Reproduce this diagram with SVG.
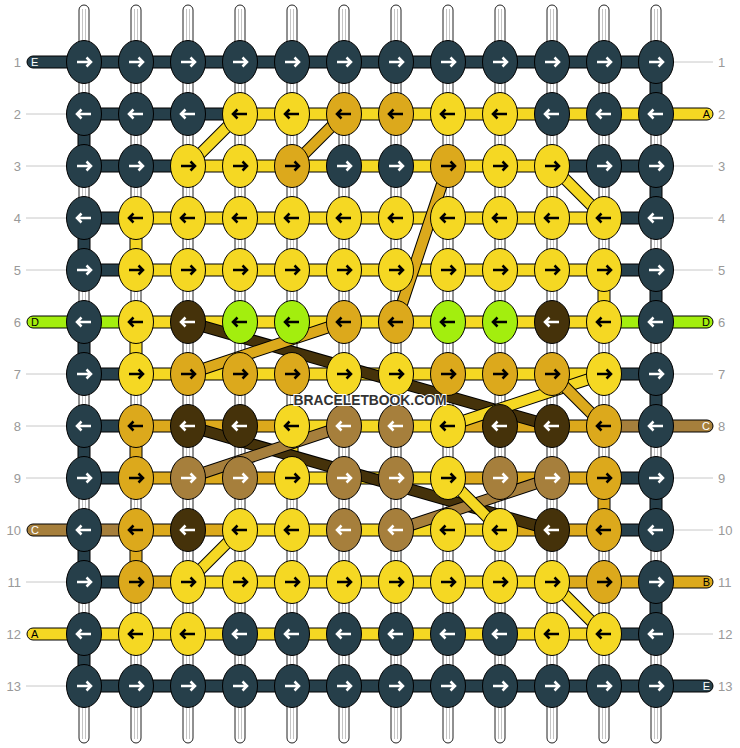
<svg xmlns="http://www.w3.org/2000/svg" xmlns:xlink="http://www.w3.org/1999/xlink" width="740" height="748" viewBox="0 0 740 748">
<style>
.k{fill:#263f4a;color:#fff}
.y{fill:#f5d823;color:#000}
.g{fill:#dca91c;color:#000}
.b{fill:#45320a;color:#fff}
.l{fill:#a3ee0e;color:#000}
.t{fill:#a67f3c;color:#fff}
.bar{stroke:#000;stroke-width:1}
.str{fill:#fff;stroke:#222;stroke-width:1}
.sl{stroke:#c4c4c4;stroke-width:1}
.o{stroke:#000;stroke-width:12}
.d{stroke-width:10}
.dy{stroke:#f5d823}.dg{stroke:#dca91c}.db{stroke:#45320a}.dt{stroke:#a67f3c}
.gl{stroke:#c8c8c8;stroke-width:1}
.num{font-family:"Liberation Sans",Arial,sans-serif;font-size:13px;fill:#999}
.lab{font-family:"Liberation Sans",Arial,sans-serif;font-size:11px}
.wm{font-family:"Liberation Sans",Arial,sans-serif;font-size:15px;font-weight:bold;fill:#333;stroke:#fff;stroke-width:2;paint-order:stroke}
</style>
<defs>
<ellipse id="kn" rx="17.5" ry="21.5" stroke="#000" stroke-width="1"/>
<path id="ar" d="M-7,0H6.5M2.5,-4.5L7,0L2.5,4.5" fill="none" stroke="currentColor" stroke-width="2.5"/>
<path id="al" d="M7,0H-6.5M-2.5,-4.5L-7,0L-2.5,4.5" fill="none" stroke="currentColor" stroke-width="2.5"/>
<g id="st"><rect class="str" x="-5" y="5" width="10" height="738" rx="5"/><line class="sl" x1="-1.5" y1="9" x2="-1.5" y2="739"/><line class="sl" x1="1.5" y1="9" x2="1.5" y2="739"/></g>
</defs>
<rect width="740" height="748" fill="#fff"/>
<g id="strings">
<use href="#st" x="84"/><use href="#st" x="136"/><use href="#st" x="188"/><use href="#st" x="240"/><use href="#st" x="292"/><use href="#st" x="344"/><use href="#st" x="396"/><use href="#st" x="448"/><use href="#st" x="500"/><use href="#st" x="552"/><use href="#st" x="604"/><use href="#st" x="656"/>
</g>
<g id="rowlabels">
<line class="gl" x1="26" y1="114" x2="67" y2="114"/><line class="gl" x1="26" y1="166" x2="67" y2="166"/><line class="gl" x1="26" y1="218" x2="67" y2="218"/><line class="gl" x1="26" y1="270" x2="67" y2="270"/><line class="gl" x1="26" y1="374" x2="67" y2="374"/><line class="gl" x1="26" y1="426" x2="67" y2="426"/><line class="gl" x1="26" y1="478" x2="67" y2="478"/><line class="gl" x1="26" y1="582" x2="67" y2="582"/><line class="gl" x1="26" y1="686" x2="67" y2="686"/>
<line class="gl" x1="673" y1="62" x2="713" y2="62"/><line class="gl" x1="673" y1="166" x2="713" y2="166"/><line class="gl" x1="673" y1="218" x2="713" y2="218"/><line class="gl" x1="673" y1="270" x2="713" y2="270"/><line class="gl" x1="673" y1="374" x2="713" y2="374"/><line class="gl" x1="673" y1="478" x2="713" y2="478"/><line class="gl" x1="673" y1="530" x2="713" y2="530"/><line class="gl" x1="673" y1="634" x2="713" y2="634"/>
<g class="num" text-anchor="end">
<text x="21" y="66.5">1</text><text x="21" y="118.5">2</text><text x="21" y="170.5">3</text><text x="21" y="222.5">4</text><text x="21" y="274.5">5</text><text x="21" y="326.5">6</text><text x="21" y="378.5">7</text><text x="21" y="430.5">8</text><text x="21" y="482.5">9</text><text x="21" y="534.5">10</text><text x="21" y="586.5">11</text><text x="21" y="638.5">12</text><text x="21" y="690.5">13</text>
</g>
<g class="num">
<text x="718" y="66.5">1</text><text x="718" y="118.5">2</text><text x="718" y="170.5">3</text><text x="718" y="222.5">4</text><text x="718" y="274.5">5</text><text x="718" y="326.5">6</text><text x="718" y="378.5">7</text><text x="718" y="430.5">8</text><text x="718" y="482.5">9</text><text x="718" y="534.5">10</text><text x="718" y="586.5">11</text><text x="718" y="638.5">12</text><text x="718" y="690.5">13</text>
</g>
</g>
<g id="connectors">
<g id="endbars">
<rect class="bar k" x="27" y="56" width="60" height="12" rx="6"/>
<rect class="bar l" x="27" y="316" width="60" height="12" rx="6"/>
<rect class="bar t" x="27" y="524" width="60" height="12" rx="6"/>
<rect class="bar y" x="27" y="628" width="60" height="12" rx="6"/>
<rect class="bar y" x="653" y="108" width="60" height="12" rx="6"/>
<rect class="bar l" x="653" y="316" width="60" height="12" rx="6"/>
<rect class="bar t" x="653" y="420" width="60" height="12" rx="6"/>
<rect class="bar g" x="653" y="576" width="60" height="12" rx="6"/>
<rect class="bar k" x="653" y="680" width="60" height="12" rx="6"/>
</g>
<g id="rowbars">
<rect class="bar k" x="84" y="56" width="572" height="12"/>
<rect class="bar k" x="84" y="108" width="156" height="12"/><rect class="bar y" x="240" y="108" width="416" height="12"/>
<rect class="bar k" x="84" y="160" width="104" height="12"/><rect class="bar y" x="188" y="160" width="364" height="12"/><rect class="bar k" x="552" y="160" width="104" height="12"/>
<rect class="bar k" x="84" y="212" width="52" height="12"/><rect class="bar y" x="136" y="212" width="468" height="12"/><rect class="bar k" x="604" y="212" width="52" height="12"/>
<rect class="bar k" x="84" y="264" width="52" height="12"/><rect class="bar y" x="136" y="264" width="468" height="12"/><rect class="bar k" x="604" y="264" width="52" height="12"/>
<rect class="bar l" x="84" y="316" width="52" height="12"/><rect class="bar y" x="136" y="316" width="468" height="12"/><rect class="bar l" x="604" y="316" width="52" height="12"/>
<rect class="bar k" x="84" y="368" width="52" height="12"/><rect class="bar y" x="136" y="368" width="468" height="12"/><rect class="bar k" x="604" y="368" width="52" height="12"/>
<rect class="bar k" x="84" y="420" width="52" height="12"/><rect class="bar g" x="136" y="420" width="156" height="12"/><rect class="bar y" x="292" y="420" width="156" height="12"/><rect class="bar g" x="448" y="420" width="156" height="12"/><rect class="bar t" x="604" y="420" width="52" height="12"/>
<rect class="bar k" x="84" y="472" width="52" height="12"/><rect class="bar g" x="136" y="472" width="156" height="12"/><rect class="bar y" x="292" y="472" width="156" height="12"/><rect class="bar g" x="448" y="472" width="156" height="12"/><rect class="bar k" x="604" y="472" width="52" height="12"/>
<rect class="bar t" x="84" y="524" width="52" height="12"/><rect class="bar g" x="136" y="524" width="104" height="12"/><rect class="bar y" x="240" y="524" width="260" height="12"/><rect class="bar g" x="500" y="524" width="104" height="12"/><rect class="bar k" x="604" y="524" width="52" height="12"/>
<rect class="bar k" x="84" y="576" width="52" height="12"/><rect class="bar g" x="136" y="576" width="52" height="12"/><rect class="bar y" x="188" y="576" width="364" height="12"/><rect class="bar g" x="552" y="576" width="104" height="12"/>
<rect class="bar y" x="84" y="628" width="520" height="12"/><rect class="bar k" x="604" y="628" width="52" height="12"/>
<rect class="bar k" x="84" y="680" width="572" height="12"/>
</g>
<g id="turns">
<rect class="bar k" x="650" y="62" width="12" height="52"/>
<rect class="bar k" x="78" y="114" width="12" height="52"/>
<rect class="bar k" x="650" y="166" width="12" height="52"/>
<rect class="bar k" x="78" y="218" width="12" height="52"/>
<rect class="bar y" x="130" y="218" width="12" height="52"/>
<rect class="bar k" x="650" y="270" width="12" height="52"/>
<rect class="bar y" x="598" y="270" width="12" height="52"/>
<rect class="bar k" x="78" y="322" width="12" height="52"/>
<rect class="bar y" x="130" y="322" width="12" height="52"/>
<rect class="bar k" x="650" y="374" width="12" height="52"/>
<rect class="bar k" x="78" y="426" width="12" height="52"/>
<rect class="bar g" x="130" y="426" width="12" height="52"/>
<rect class="bar y" x="286" y="426" width="12" height="52"/>
<rect class="bar k" x="650" y="478" width="12" height="52"/>
<rect class="bar g" x="598" y="478" width="12" height="52"/>
<rect class="bar k" x="78" y="530" width="12" height="52"/>
<rect class="bar g" x="130" y="530" width="12" height="52"/>
<rect class="bar k" x="650" y="582" width="12" height="52"/>
<rect class="bar k" x="78" y="634" width="12" height="52"/>
</g>
<g id="diagonals">
<line class="o" x1="188" y1="322" x2="552" y2="426"/><line class="d db" x1="188" y1="322" x2="552" y2="426"/>
<line class="o" x1="188" y1="426" x2="552" y2="530"/><line class="d db" x1="188" y1="426" x2="552" y2="530"/>
<line class="o" x1="344" y1="426" x2="188" y2="478"/><line class="d dt" x1="344" y1="426" x2="188" y2="478"/>
<line class="o" x1="552" y1="478" x2="396" y2="530"/><line class="d dt" x1="552" y1="478" x2="396" y2="530"/>
<line class="o" x1="344" y1="114" x2="292" y2="166"/><line class="d dg" x1="344" y1="114" x2="292" y2="166"/>
<line class="o" x1="448" y1="166" x2="396" y2="322"/><line class="d dg" x1="448" y1="166" x2="396" y2="322"/>
<line class="o" x1="344" y1="322" x2="188" y2="374"/><line class="d dg" x1="344" y1="322" x2="188" y2="374"/>
<line class="o" x1="604" y1="374" x2="448" y2="426"/><line class="d dy" x1="604" y1="374" x2="448" y2="426"/>
<line class="o" x1="552" y1="374" x2="604" y2="426"/><line class="d dg" x1="552" y1="374" x2="604" y2="426"/>
<line class="o" x1="240" y1="114" x2="188" y2="166"/><line class="d dy" x1="240" y1="114" x2="188" y2="166"/>
<line class="o" x1="552" y1="166" x2="604" y2="218"/><line class="d dy" x1="552" y1="166" x2="604" y2="218"/>
<line class="o" x1="448" y1="478" x2="500" y2="530"/><line class="d dy" x1="448" y1="478" x2="500" y2="530"/>
<line class="o" x1="240" y1="530" x2="188" y2="582"/><line class="d dy" x1="240" y1="530" x2="188" y2="582"/>
<line class="o" x1="552" y1="582" x2="604" y2="634"/><line class="d dy" x1="552" y1="582" x2="604" y2="634"/>
</g>
</g>
<g id="knots">
<g id="n1-1" class="k" transform="translate(84,62)"><use href="#kn"/><use href="#ar"/></g>
<g id="n1-2" class="k" transform="translate(136,62)"><use href="#kn"/><use href="#ar"/></g>
<g id="n1-3" class="k" transform="translate(188,62)"><use href="#kn"/><use href="#ar"/></g>
<g id="n1-4" class="k" transform="translate(240,62)"><use href="#kn"/><use href="#ar"/></g>
<g id="n1-5" class="k" transform="translate(292,62)"><use href="#kn"/><use href="#ar"/></g>
<g id="n1-6" class="k" transform="translate(344,62)"><use href="#kn"/><use href="#ar"/></g>
<g id="n1-7" class="k" transform="translate(396,62)"><use href="#kn"/><use href="#ar"/></g>
<g id="n1-8" class="k" transform="translate(448,62)"><use href="#kn"/><use href="#ar"/></g>
<g id="n1-9" class="k" transform="translate(500,62)"><use href="#kn"/><use href="#ar"/></g>
<g id="n1-10" class="k" transform="translate(552,62)"><use href="#kn"/><use href="#ar"/></g>
<g id="n1-11" class="k" transform="translate(604,62)"><use href="#kn"/><use href="#ar"/></g>
<g id="n1-12" class="k" transform="translate(656,62)"><use href="#kn"/><use href="#ar"/></g>
<g id="n2-1" class="k" transform="translate(84,114)"><use href="#kn"/><use href="#al"/></g>
<g id="n2-2" class="k" transform="translate(136,114)"><use href="#kn"/><use href="#al"/></g>
<g id="n2-3" class="k" transform="translate(188,114)"><use href="#kn"/><use href="#al"/></g>
<g id="n2-4" class="y" transform="translate(240,114)"><use href="#kn"/><use href="#al"/></g>
<g id="n2-5" class="y" transform="translate(292,114)"><use href="#kn"/><use href="#al"/></g>
<g id="n2-6" class="g" transform="translate(344,114)"><use href="#kn"/><use href="#al"/></g>
<g id="n2-7" class="g" transform="translate(396,114)"><use href="#kn"/><use href="#al"/></g>
<g id="n2-8" class="y" transform="translate(448,114)"><use href="#kn"/><use href="#al"/></g>
<g id="n2-9" class="y" transform="translate(500,114)"><use href="#kn"/><use href="#al"/></g>
<g id="n2-10" class="k" transform="translate(552,114)"><use href="#kn"/><use href="#al"/></g>
<g id="n2-11" class="k" transform="translate(604,114)"><use href="#kn"/><use href="#al"/></g>
<g id="n2-12" class="k" transform="translate(656,114)"><use href="#kn"/><use href="#al"/></g>
<g id="n3-1" class="k" transform="translate(84,166)"><use href="#kn"/><use href="#ar"/></g>
<g id="n3-2" class="k" transform="translate(136,166)"><use href="#kn"/><use href="#ar"/></g>
<g id="n3-3" class="y" transform="translate(188,166)"><use href="#kn"/><use href="#ar"/></g>
<g id="n3-4" class="y" transform="translate(240,166)"><use href="#kn"/><use href="#ar"/></g>
<g id="n3-5" class="g" transform="translate(292,166)"><use href="#kn"/><use href="#ar"/></g>
<g id="n3-6" class="k" transform="translate(344,166)"><use href="#kn"/><use href="#ar"/></g>
<g id="n3-7" class="k" transform="translate(396,166)"><use href="#kn"/><use href="#ar"/></g>
<g id="n3-8" class="g" transform="translate(448,166)"><use href="#kn"/><use href="#ar"/></g>
<g id="n3-9" class="y" transform="translate(500,166)"><use href="#kn"/><use href="#ar"/></g>
<g id="n3-10" class="y" transform="translate(552,166)"><use href="#kn"/><use href="#ar"/></g>
<g id="n3-11" class="k" transform="translate(604,166)"><use href="#kn"/><use href="#ar"/></g>
<g id="n3-12" class="k" transform="translate(656,166)"><use href="#kn"/><use href="#ar"/></g>
<g id="n4-1" class="k" transform="translate(84,218)"><use href="#kn"/><use href="#al"/></g>
<g id="n4-2" class="y" transform="translate(136,218)"><use href="#kn"/><use href="#al"/></g>
<g id="n4-3" class="y" transform="translate(188,218)"><use href="#kn"/><use href="#al"/></g>
<g id="n4-4" class="y" transform="translate(240,218)"><use href="#kn"/><use href="#al"/></g>
<g id="n4-5" class="y" transform="translate(292,218)"><use href="#kn"/><use href="#al"/></g>
<g id="n4-6" class="y" transform="translate(344,218)"><use href="#kn"/><use href="#al"/></g>
<g id="n4-7" class="y" transform="translate(396,218)"><use href="#kn"/><use href="#al"/></g>
<g id="n4-8" class="y" transform="translate(448,218)"><use href="#kn"/><use href="#al"/></g>
<g id="n4-9" class="y" transform="translate(500,218)"><use href="#kn"/><use href="#al"/></g>
<g id="n4-10" class="y" transform="translate(552,218)"><use href="#kn"/><use href="#al"/></g>
<g id="n4-11" class="y" transform="translate(604,218)"><use href="#kn"/><use href="#al"/></g>
<g id="n4-12" class="k" transform="translate(656,218)"><use href="#kn"/><use href="#al"/></g>
<g id="n5-1" class="k" transform="translate(84,270)"><use href="#kn"/><use href="#ar"/></g>
<g id="n5-2" class="y" transform="translate(136,270)"><use href="#kn"/><use href="#ar"/></g>
<g id="n5-3" class="y" transform="translate(188,270)"><use href="#kn"/><use href="#ar"/></g>
<g id="n5-4" class="y" transform="translate(240,270)"><use href="#kn"/><use href="#ar"/></g>
<g id="n5-5" class="y" transform="translate(292,270)"><use href="#kn"/><use href="#ar"/></g>
<g id="n5-6" class="y" transform="translate(344,270)"><use href="#kn"/><use href="#ar"/></g>
<g id="n5-7" class="y" transform="translate(396,270)"><use href="#kn"/><use href="#ar"/></g>
<g id="n5-8" class="y" transform="translate(448,270)"><use href="#kn"/><use href="#ar"/></g>
<g id="n5-9" class="y" transform="translate(500,270)"><use href="#kn"/><use href="#ar"/></g>
<g id="n5-10" class="y" transform="translate(552,270)"><use href="#kn"/><use href="#ar"/></g>
<g id="n5-11" class="y" transform="translate(604,270)"><use href="#kn"/><use href="#ar"/></g>
<g id="n5-12" class="k" transform="translate(656,270)"><use href="#kn"/><use href="#ar"/></g>
<g id="n6-1" class="k" transform="translate(84,322)"><use href="#kn"/><use href="#al"/></g>
<g id="n6-2" class="y" transform="translate(136,322)"><use href="#kn"/><use href="#al"/></g>
<g id="n6-3" class="b" transform="translate(188,322)"><use href="#kn"/><use href="#al"/></g>
<g id="n6-4" class="l" transform="translate(240,322)"><use href="#kn"/><use href="#al"/></g>
<g id="n6-5" class="l" transform="translate(292,322)"><use href="#kn"/><use href="#al"/></g>
<g id="n6-6" class="g" transform="translate(344,322)"><use href="#kn"/><use href="#al"/></g>
<g id="n6-7" class="g" transform="translate(396,322)"><use href="#kn"/><use href="#al"/></g>
<g id="n6-8" class="l" transform="translate(448,322)"><use href="#kn"/><use href="#al"/></g>
<g id="n6-9" class="l" transform="translate(500,322)"><use href="#kn"/><use href="#al"/></g>
<g id="n6-10" class="b" transform="translate(552,322)"><use href="#kn"/><use href="#al"/></g>
<g id="n6-11" class="y" transform="translate(604,322)"><use href="#kn"/><use href="#al"/></g>
<g id="n6-12" class="k" transform="translate(656,322)"><use href="#kn"/><use href="#al"/></g>
<g id="n7-1" class="k" transform="translate(84,374)"><use href="#kn"/><use href="#ar"/></g>
<g id="n7-2" class="y" transform="translate(136,374)"><use href="#kn"/><use href="#ar"/></g>
<g id="n7-3" class="g" transform="translate(188,374)"><use href="#kn"/><use href="#ar"/></g>
<g id="n7-4" class="g" transform="translate(240,374)"><use href="#kn"/><use href="#ar"/></g>
<g id="n7-5" class="g" transform="translate(292,374)"><use href="#kn"/><use href="#ar"/></g>
<g id="n7-6" class="y" transform="translate(344,374)"><use href="#kn"/><use href="#ar"/></g>
<g id="n7-7" class="y" transform="translate(396,374)"><use href="#kn"/><use href="#ar"/></g>
<g id="n7-8" class="g" transform="translate(448,374)"><use href="#kn"/><use href="#ar"/></g>
<g id="n7-9" class="g" transform="translate(500,374)"><use href="#kn"/><use href="#ar"/></g>
<g id="n7-10" class="g" transform="translate(552,374)"><use href="#kn"/><use href="#ar"/></g>
<g id="n7-11" class="y" transform="translate(604,374)"><use href="#kn"/><use href="#ar"/></g>
<g id="n7-12" class="k" transform="translate(656,374)"><use href="#kn"/><use href="#ar"/></g>
<g id="n8-1" class="k" transform="translate(84,426)"><use href="#kn"/><use href="#al"/></g>
<g id="n8-2" class="g" transform="translate(136,426)"><use href="#kn"/><use href="#al"/></g>
<g id="n8-3" class="b" transform="translate(188,426)"><use href="#kn"/><use href="#al"/></g>
<g id="n8-4" class="b" transform="translate(240,426)"><use href="#kn"/><use href="#al"/></g>
<g id="n8-5" class="y" transform="translate(292,426)"><use href="#kn"/><use href="#al"/></g>
<g id="n8-6" class="t" transform="translate(344,426)"><use href="#kn"/><use href="#al"/></g>
<g id="n8-7" class="t" transform="translate(396,426)"><use href="#kn"/><use href="#al"/></g>
<g id="n8-8" class="y" transform="translate(448,426)"><use href="#kn"/><use href="#al"/></g>
<g id="n8-9" class="b" transform="translate(500,426)"><use href="#kn"/><use href="#al"/></g>
<g id="n8-10" class="b" transform="translate(552,426)"><use href="#kn"/><use href="#al"/></g>
<g id="n8-11" class="g" transform="translate(604,426)"><use href="#kn"/><use href="#al"/></g>
<g id="n8-12" class="k" transform="translate(656,426)"><use href="#kn"/><use href="#al"/></g>
<g id="n9-1" class="k" transform="translate(84,478)"><use href="#kn"/><use href="#ar"/></g>
<g id="n9-2" class="g" transform="translate(136,478)"><use href="#kn"/><use href="#ar"/></g>
<g id="n9-3" class="t" transform="translate(188,478)"><use href="#kn"/><use href="#ar"/></g>
<g id="n9-4" class="t" transform="translate(240,478)"><use href="#kn"/><use href="#ar"/></g>
<g id="n9-5" class="y" transform="translate(292,478)"><use href="#kn"/><use href="#ar"/></g>
<g id="n9-6" class="t" transform="translate(344,478)"><use href="#kn"/><use href="#ar"/></g>
<g id="n9-7" class="t" transform="translate(396,478)"><use href="#kn"/><use href="#ar"/></g>
<g id="n9-8" class="y" transform="translate(448,478)"><use href="#kn"/><use href="#ar"/></g>
<g id="n9-9" class="t" transform="translate(500,478)"><use href="#kn"/><use href="#ar"/></g>
<g id="n9-10" class="t" transform="translate(552,478)"><use href="#kn"/><use href="#ar"/></g>
<g id="n9-11" class="g" transform="translate(604,478)"><use href="#kn"/><use href="#ar"/></g>
<g id="n9-12" class="k" transform="translate(656,478)"><use href="#kn"/><use href="#ar"/></g>
<g id="n10-1" class="k" transform="translate(84,530)"><use href="#kn"/><use href="#al"/></g>
<g id="n10-2" class="g" transform="translate(136,530)"><use href="#kn"/><use href="#al"/></g>
<g id="n10-3" class="b" transform="translate(188,530)"><use href="#kn"/><use href="#al"/></g>
<g id="n10-4" class="y" transform="translate(240,530)"><use href="#kn"/><use href="#al"/></g>
<g id="n10-5" class="y" transform="translate(292,530)"><use href="#kn"/><use href="#al"/></g>
<g id="n10-6" class="t" transform="translate(344,530)"><use href="#kn"/><use href="#al"/></g>
<g id="n10-7" class="t" transform="translate(396,530)"><use href="#kn"/><use href="#al"/></g>
<g id="n10-8" class="y" transform="translate(448,530)"><use href="#kn"/><use href="#al"/></g>
<g id="n10-9" class="y" transform="translate(500,530)"><use href="#kn"/><use href="#al"/></g>
<g id="n10-10" class="b" transform="translate(552,530)"><use href="#kn"/><use href="#al"/></g>
<g id="n10-11" class="g" transform="translate(604,530)"><use href="#kn"/><use href="#al"/></g>
<g id="n10-12" class="k" transform="translate(656,530)"><use href="#kn"/><use href="#al"/></g>
<g id="n11-1" class="k" transform="translate(84,582)"><use href="#kn"/><use href="#ar"/></g>
<g id="n11-2" class="g" transform="translate(136,582)"><use href="#kn"/><use href="#ar"/></g>
<g id="n11-3" class="y" transform="translate(188,582)"><use href="#kn"/><use href="#ar"/></g>
<g id="n11-4" class="y" transform="translate(240,582)"><use href="#kn"/><use href="#ar"/></g>
<g id="n11-5" class="y" transform="translate(292,582)"><use href="#kn"/><use href="#ar"/></g>
<g id="n11-6" class="y" transform="translate(344,582)"><use href="#kn"/><use href="#ar"/></g>
<g id="n11-7" class="y" transform="translate(396,582)"><use href="#kn"/><use href="#ar"/></g>
<g id="n11-8" class="y" transform="translate(448,582)"><use href="#kn"/><use href="#ar"/></g>
<g id="n11-9" class="y" transform="translate(500,582)"><use href="#kn"/><use href="#ar"/></g>
<g id="n11-10" class="y" transform="translate(552,582)"><use href="#kn"/><use href="#ar"/></g>
<g id="n11-11" class="g" transform="translate(604,582)"><use href="#kn"/><use href="#ar"/></g>
<g id="n11-12" class="k" transform="translate(656,582)"><use href="#kn"/><use href="#ar"/></g>
<g id="n12-1" class="k" transform="translate(84,634)"><use href="#kn"/><use href="#al"/></g>
<g id="n12-2" class="y" transform="translate(136,634)"><use href="#kn"/><use href="#al"/></g>
<g id="n12-3" class="y" transform="translate(188,634)"><use href="#kn"/><use href="#al"/></g>
<g id="n12-4" class="k" transform="translate(240,634)"><use href="#kn"/><use href="#al"/></g>
<g id="n12-5" class="k" transform="translate(292,634)"><use href="#kn"/><use href="#al"/></g>
<g id="n12-6" class="k" transform="translate(344,634)"><use href="#kn"/><use href="#al"/></g>
<g id="n12-7" class="k" transform="translate(396,634)"><use href="#kn"/><use href="#al"/></g>
<g id="n12-8" class="k" transform="translate(448,634)"><use href="#kn"/><use href="#al"/></g>
<g id="n12-9" class="k" transform="translate(500,634)"><use href="#kn"/><use href="#al"/></g>
<g id="n12-10" class="y" transform="translate(552,634)"><use href="#kn"/><use href="#al"/></g>
<g id="n12-11" class="y" transform="translate(604,634)"><use href="#kn"/><use href="#al"/></g>
<g id="n12-12" class="k" transform="translate(656,634)"><use href="#kn"/><use href="#al"/></g>
<g id="n13-1" class="k" transform="translate(84,686)"><use href="#kn"/><use href="#ar"/></g>
<g id="n13-2" class="k" transform="translate(136,686)"><use href="#kn"/><use href="#ar"/></g>
<g id="n13-3" class="k" transform="translate(188,686)"><use href="#kn"/><use href="#ar"/></g>
<g id="n13-4" class="k" transform="translate(240,686)"><use href="#kn"/><use href="#ar"/></g>
<g id="n13-5" class="k" transform="translate(292,686)"><use href="#kn"/><use href="#ar"/></g>
<g id="n13-6" class="k" transform="translate(344,686)"><use href="#kn"/><use href="#ar"/></g>
<g id="n13-7" class="k" transform="translate(396,686)"><use href="#kn"/><use href="#ar"/></g>
<g id="n13-8" class="k" transform="translate(448,686)"><use href="#kn"/><use href="#ar"/></g>
<g id="n13-9" class="k" transform="translate(500,686)"><use href="#kn"/><use href="#ar"/></g>
<g id="n13-10" class="k" transform="translate(552,686)"><use href="#kn"/><use href="#ar"/></g>
<g id="n13-11" class="k" transform="translate(604,686)"><use href="#kn"/><use href="#ar"/></g>
<g id="n13-12" class="k" transform="translate(656,686)"><use href="#kn"/><use href="#ar"/></g>
</g>
<g id="threadlabels" class="lab">
<text x="31" y="66" fill="#fff">E</text>
<text x="31" y="326" fill="#000">D</text>
<text x="31" y="534" fill="#fff">C</text>
<text x="31" y="638" fill="#000">A</text>
<g text-anchor="end">
<text x="710" y="118" fill="#000">A</text>
<text x="710" y="326" fill="#000">D</text>
<text x="710" y="430" fill="#fff">C</text>
<text x="710" y="586" fill="#000">B</text>
<text x="710" y="690" fill="#fff">E</text>
</g>
</g>
<text class="wm" x="370" y="405" text-anchor="middle" textLength="153" lengthAdjust="spacingAndGlyphs">BRACELETBOOK.COM</text>
</svg>
